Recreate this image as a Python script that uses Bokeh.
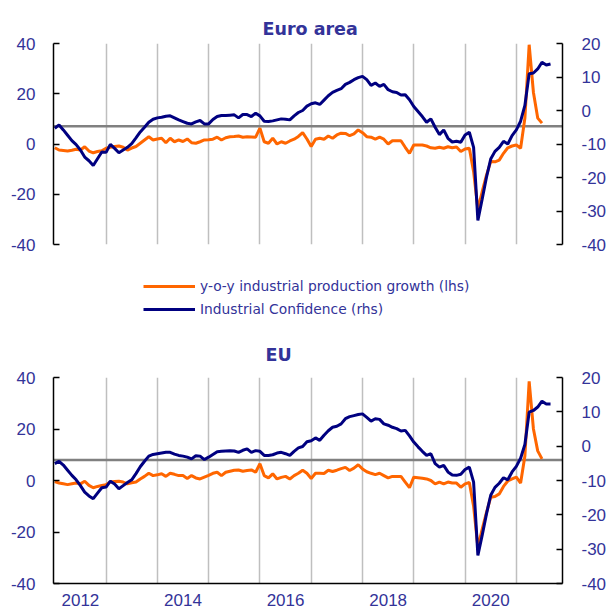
from bokeh.plotting import figure
from bokeh.models import Range1d, LinearAxis, FixedTicker, Span, Legend, LegendItem
from bokeh.layouts import column
from bokeh.embed import file_html
from bokeh.resources import INLINE

# ---------------- data (monthly, Jan 2012 = index 0) ----------------
year_labels = ["2012", "2014", "2016", "2018", "2020"]
year_label_pos = [6, 30, 54, 78, 102]          # mid-year month index
year_starts = [12, 24, 36, 48, 60, 72, 84, 96, 108]
lhs_ticks = [-40, -20, 0, 20, 40]
rhs_ticks = [-40, -30, -20, -10, 0, 10, 20]

ip_ea = [
    -1.5, -2.4, -2.6, -2.8, -2.5, -2.1, -2.4, -1.1, -2.8, -3.5, -3.0, -2.7,
    -1.7, -1.3, -1.0, -0.8, -1.3, -2.4, -1.6, -1.0, 0.3, 1.6, 2.9, 1.6,
    2.0, 2.3, 0.5, 2.3, 0.9, 1.6, 1.0, 2.0, 0.5, 0.3, 0.9, 1.6,
    1.7, 1.9, 2.7, 1.6, 2.5, 2.9, 3.0, 3.2, 2.7, 2.9, 2.8, 2.7,
    6.3, 0.9, 0.3, 2.3, 0.0, 0.9, 0.3, 1.2, 1.9, 3.0, 4.5, 2.0,
    -1.0, 1.9, 2.3, 1.9, 3.2, 2.3, 3.6, 4.3, 4.2, 3.3, 4.0, 5.6,
    4.5, 2.9, 2.7, 1.9, 2.7, 1.9, 0.0, 1.3, 1.3, 1.3, -1.3, -3.7,
    -0.4, -0.4, -0.4, -0.8, -1.5, -1.7, -1.3, -1.7, -1.1, -1.5, -1.2, -3.0,
    -2.0, -1.7, -11.0, -26.0, -19.0, -12.5, -7.0, -7.1, -6.4, -3.7, -1.5, -0.8,
    -0.4, -1.7, 10.3, 39.5, 20.5, 10.3, 8.3,
]
conf_ea = [
    -5.3, -4.3, -5.8, -7.4, -9.0, -10.2, -11.8, -13.9, -15.0, -16.4, -14.4, -12.4,
    -12.5, -10.1, -11.3, -12.6, -11.8, -11.0, -9.9, -8.2, -6.4, -5.0, -3.5, -2.6,
    -2.2, -2.0, -1.7, -1.6, -2.2, -2.8, -3.3, -3.8, -4.0, -3.4, -3.0, -4.0,
    -4.0, -2.7, -1.8, -1.5, -1.5, -1.4, -1.3, -2.2, -1.2, -1.2, -1.8, -0.8,
    -1.6, -3.2, -3.3, -3.1, -2.8, -2.5, -2.6, -2.8, -1.6, -0.6, 0.0, 1.3,
    2.0, 2.3, 1.8, 3.1, 4.4, 5.4, 6.0, 6.5, 7.8, 8.4, 9.2, 9.8,
    10.2, 9.2, 7.5, 8.2, 7.2, 7.8, 6.2, 5.6, 5.4, 4.6, 4.7, 3.2,
    1.2, -0.3, -1.8, -3.5, -2.5, -5.0, -7.2, -5.8, -8.3, -9.4, -9.2, -9.5,
    -7.3, -6.5, -11.0, -32.8, -26.5, -20.0, -14.5, -12.2, -11.0, -9.2, -10.0, -7.5,
    -5.8, -3.2, 1.5, 11.0, 11.2, 12.4, 14.4, 13.6, 13.9,
]
conf_avg_ea = -4.7

ip_eu = [
    -0.4, -1.0, -1.3, -1.6, -1.3, -1.0, -1.3, -0.3, -1.9, -2.8, -2.3, -1.9,
    -1.6, -0.6, -0.4, -0.3, -0.6, -1.3, -0.9, -0.6, 0.6, 1.6, 2.8, 1.9,
    2.2, 2.6, 1.6, 2.8, 2.4, 1.9, 1.9, 0.8, 1.9, 1.0, 0.6, 1.3,
    2.0, 2.8, 3.2, 1.9, 3.2, 3.6, 4.0, 4.1, 3.6, 3.9, 4.1, 3.2,
    6.5, 1.9, 1.0, 2.6, 0.6, 1.2, 1.6, 0.6, 1.9, 2.8, 4.0, 2.8,
    0.8, 2.8, 2.8, 2.7, 4.0, 3.5, 4.0, 4.6, 5.1, 3.9, 4.8, 6.1,
    4.5, 3.4, 2.8, 2.3, 2.8, 1.9, 1.0, 1.6, 1.6, 1.6, -0.6, -2.8,
    1.3, 1.1, 0.9, 0.6, 0.0, -1.3, -0.6, -1.3, -0.6, -1.0, -1.0, -2.6,
    -1.3, -0.8, -10.0, -26.0, -19.0, -12.5, -6.5, -6.2, -5.2, -2.3, -0.2, 0.6,
    1.3, -1.0, 9.5, 38.5, 20.0, 11.5, 8.4,
]
conf_eu = [
    -5.1, -4.4, -5.5, -7.0, -8.5, -9.8, -11.5, -13.4, -14.5, -15.3, -13.7, -12.1,
    -11.9, -10.2, -11.0, -12.4, -11.5, -10.6, -9.8, -8.0, -6.0, -4.4, -2.9, -2.4,
    -2.2, -2.0, -1.8, -1.8, -2.3, -2.7, -2.9, -3.2, -3.7, -2.8, -2.9, -3.9,
    -3.2, -2.4, -1.6, -1.5, -1.4, -1.3, -1.4, -1.8, -1.2, -0.8, -1.8, -1.3,
    -1.5, -2.7, -2.7, -2.5, -2.0, -1.8, -2.2, -2.7, -1.5, -0.5, -0.1, 1.3,
    1.6, 2.4, 1.7, 3.2, 4.5, 5.5, 5.8, 6.5, 8.0, 8.6, 8.9, 9.2,
    9.4, 8.4, 7.3, 8.0, 7.8, 6.5, 6.1, 5.5, 5.1, 4.4, 4.6, 3.0,
    1.2, -0.2, -1.5, -2.7, -2.2, -5.1, -6.1, -5.6, -7.5, -8.4, -8.5, -8.2,
    -6.8, -6.1, -10.5, -31.8, -26.0, -19.8, -14.3, -12.0, -10.8, -9.2, -9.8, -7.5,
    -5.9, -3.5, 0.5, 9.9, 10.4, 11.4, 13.1, 12.3, 12.3,
]
conf_avg_eu = -4.0

months_ip = list(range(len(ip_ea)))
months_conf = list(range(len(conf_ea)))

TXT = "#333399"
ORANGE = "#FF6600"
NAVY = "#000080"
TICK_FONT = "Liberation Sans"
TITLE_FONT = "DejaVu Sans"
W = 609


def make_panel(title_text, ip, conf, avg, top, frame_h, bottom, title_offset,
               title_standoff, show_x):
    p = figure(frame_width=509, frame_height=frame_h, output_backend="svg",
               toolbar_location=None,
               x_range=Range1d(-0.3, 118.8), y_range=Range1d(-40, 40),
               min_border_left=53, min_border_right=W - 53 - 509,
               min_border_top=top, min_border_bottom=bottom)
    p.extra_y_ranges = {"rhs": Range1d(-40, 20)}
    p.outline_line_color = None
    p.background_fill_color = "white"
    p.border_fill_color = "white"

    p.title.text = title_text
    p.title.align = "left"
    p.title.offset = title_offset
    p.title.standoff = title_standoff
    p.title.text_font = TITLE_FONT
    p.title.text_font_style = "bold"
    p.title.text_font_size = "17.5px"
    p.title.text_color = TXT

    p.ygrid.visible = False
    p.xgrid.ticker = FixedTicker(ticks=year_starts)
    p.xgrid.grid_line_color = "#BFBFBF"
    p.xgrid.grid_line_width = 1.5

    def style_y(ax, ticks, standoff):
        ax.ticker = FixedTicker(ticks=ticks)
        ax.major_label_overrides = {t: str(t) for t in ticks}
        ax.major_tick_in = 6
        ax.major_tick_out = 0
        ax.minor_tick_line_color = None
        ax.axis_line_color = "black"
        ax.axis_line_width = 1.5
        ax.major_tick_line_width = 1.5
        ax.major_label_standoff = standoff
        ax.major_label_text_font = TICK_FONT
        ax.major_label_text_font_size = "17px"
        ax.major_label_text_color = TXT

    style_y(p.left[0], lhs_ticks, 18)
    ra = LinearAxis(y_range_name="rhs")
    style_y(ra, rhs_ticks, 19)
    p.add_layout(ra, "right")

    xa = p.below[0]
    if show_x:
        xa.ticker = FixedTicker(ticks=year_label_pos)
        xa.major_label_overrides = dict(zip(year_label_pos, year_labels))
        xa.major_tick_line_color = None
        xa.minor_tick_line_color = None
        xa.axis_line_color = "black"
        xa.axis_line_width = 1.5
        xa.major_label_standoff = 4
        xa.major_label_text_font = TICK_FONT
        xa.major_label_text_font_size = "17px"
        xa.major_label_text_color = TXT
    else:
        xa.visible = False

    p.add_layout(Span(location=avg, dimension="width", y_range_name="rhs",
                      line_color="#808080", line_width=2.5, level="underlay"))

    p.line(months_ip, ip, line_color=ORANGE, line_width=3)
    p.line(months_conf, conf, y_range_name="rhs", line_color=NAVY, line_width=3)
    return p


# top panel: frame 43..244 ; ends at 256
pa = make_panel("Euro area", ip_ea, conf_ea, conf_avg_ea,
                top=43, frame_h=201, bottom=12, title_offset=209,
                title_standoff=9, show_x=False)

# legend strip: 256..329 (series drawn out of view, only used for the legend keys)
pl = figure(width=W, height=73, output_backend="svg", toolbar_location=None,
            x_range=Range1d(1000, 1001), y_range=Range1d(1000, 1001), min_border=0)
pl.xaxis.visible = False
pl.yaxis.visible = False
pl.grid.visible = False
pl.outline_line_color = None
r1 = pl.line(months_ip, ip_ea, line_color=ORANGE, line_width=3)
r2 = pl.line(months_conf, conf_ea, line_color=NAVY, line_width=3)
legend = Legend(items=[
    LegendItem(label="y-o-y industrial production growth (lhs)", renderers=[r1]),
    LegendItem(label="Industrial Confidence (rhs)", renderers=[r2]),
], location=(90, 10), orientation="vertical", glyph_width=52, glyph_height=20,
    label_height=20, label_standoff=5, spacing=3, padding=0, margin=0,
    border_line_color=None, background_fill_alpha=0,
    label_text_font=TITLE_FONT, label_text_font_size="13.8px", label_text_color=TXT)
pl.add_layout(legend)

# bottom panel: starts 329, frame 377..583
pb = make_panel("EU", ip_eu, conf_eu, conf_avg_eu,
                top=48, frame_h=206, bottom=24, title_offset=212,
                title_standoff=25, show_x=True)

layout = column(pa, pl, pb, spacing=0)
open("out.html", "w").write(file_html(layout, INLINE))
